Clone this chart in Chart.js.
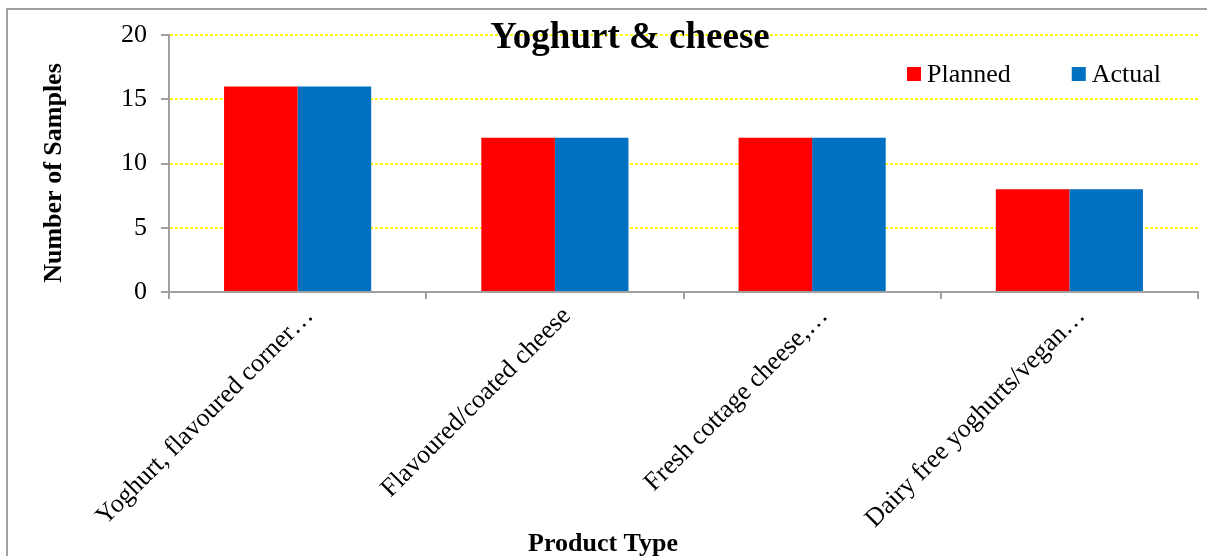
<!DOCTYPE html>
<html>
<head>
<meta charset="utf-8">
<title>Yoghurt &amp; cheese</title>
<script src="https://cdn.jsdelivr.net/npm/chart.js@4/dist/chart.umd.min.js"></script>
<style>
  html, body { margin: 0; padding: 0; background: #fff; }
  #wrap { position: relative; width: 1207px; height: 556px; overflow: hidden; }
</style>
</head>
<body>
<div id="wrap"><canvas id="myChart" width="1207" height="556"></canvas></div>
<script>
  const chartTitle = 'Yoghurt & cheese'
  const xTitle = 'Product Type'
  const yTitle = 'Number of Samples'

  const categories = [
    'Yoghurt, flavoured corner…',
    'Flavoured/coated cheese',
    'Fresh cottage cheese,…',
    'Dairy free yoghurts/vegan…'
  ]
  const planned = [16, 12, 12, 8]
  const actual = [16, 12, 12, 8]
  const yTicks = [0, 5, 10, 15, 20]

  const serif = "'Liberation Serif', 'Times New Roman', serif"
  const axisGrey = '#a0a0a0'

  Chart.defaults.font.family = serif
  Chart.defaults.font.size = 26
  Chart.defaults.color = '#000'

  // frame, title, axis titles and legend drawn straight on the canvas
  const decorations = {
    id: 'decorations',
    beforeDraw(chart) {
      const c = chart.ctx
      c.save()
      c.strokeStyle = axisGrey
      c.lineWidth = 2
      c.strokeRect(7, 9, 1400, 800)
      c.restore()
    },
    afterDraw(chart) {
      const c = chart.ctx
      const area = chart.chartArea
      c.save()
      c.fillStyle = '#000'
      c.textBaseline = 'alphabetic'

      c.font = 'bold 37px ' + serif
      c.textAlign = 'center'
      c.fillText(chartTitle, 630, 48)

      c.font = 'bold 26px ' + serif
      c.fillText(xTitle, 603, 551)

      c.save()
      c.translate(61, 173)
      c.rotate(-Math.PI / 2)
      c.fillText(yTitle, 0, 0)
      c.restore()

      // legend
      c.font = '26px ' + serif
      c.textAlign = 'left'
      let x = area.right - 291
      chart.data.datasets.forEach(ds => {
        c.fillStyle = ds.backgroundColor
        c.fillRect(x, 67, 14, 14)
        c.fillStyle = '#000'
        c.fillText(ds.label, x + 20, 82)
        x += 20 + c.measureText(ds.label).width + 61
      })
      c.restore()
    }
  }

  const ctx = document.getElementById('myChart')
  // eslint-disable-next-line no-unused-vars
  const myChart = new Chart(ctx, {
    type: 'bar',
    data: {
      labels: categories,
      datasets: [{
        label: 'Planned',
        data: planned,
        backgroundColor: '#ff0000'
      }, {
        label: 'Actual',
        data: actual,
        backgroundColor: '#0070c0'
      }]
    },
    options: {
      responsive: false,
      animation: false,
      events: [],
      layout: {
        padding: { left: 0, top: 35, right: 9, bottom: 0 }
      },
      datasets: {
        bar: {
          barPercentage: 1,
          categoryPercentage: 0.572
        }
      },
      scales: {
        x: {
          afterFit: scale => { scale.height = 264 },
          grid: {
            offset: true,
            drawOnChartArea: false,
            color: axisGrey,
            tickLength: 7,
            lineWidth: 2
          },
          border: { color: axisGrey, width: 2 },
          ticks: {
            autoSkip: false,
            minRotation: 45,
            maxRotation: 45,
            padding: 2,
            labelOffset: 12
          }
        },
        y: {
          min: 0,
          max: 20,
          afterFit: scale => { scale.width = 169 },
          afterBuildTicks: scale => {
            scale.ticks = yTicks.map(v => ({ value: v }))
          },
          grid: {
            color: c => (c.tick && c.tick.value === 0) ? 'rgba(0,0,0,0)' : '#ffff00',
            lineWidth: 2,
            tickColor: axisGrey,
            tickWidth: 2,
            tickLength: 8
          },
          border: { color: axisGrey, width: 2, dash: [3, 2] },
          ticks: {
            padding: 14
          }
        }
      },
      plugins: {
        legend: { display: false },
        tooltip: { enabled: false }
      }
    },
    plugins: [decorations]
  })
</script>
</body>
</html>
